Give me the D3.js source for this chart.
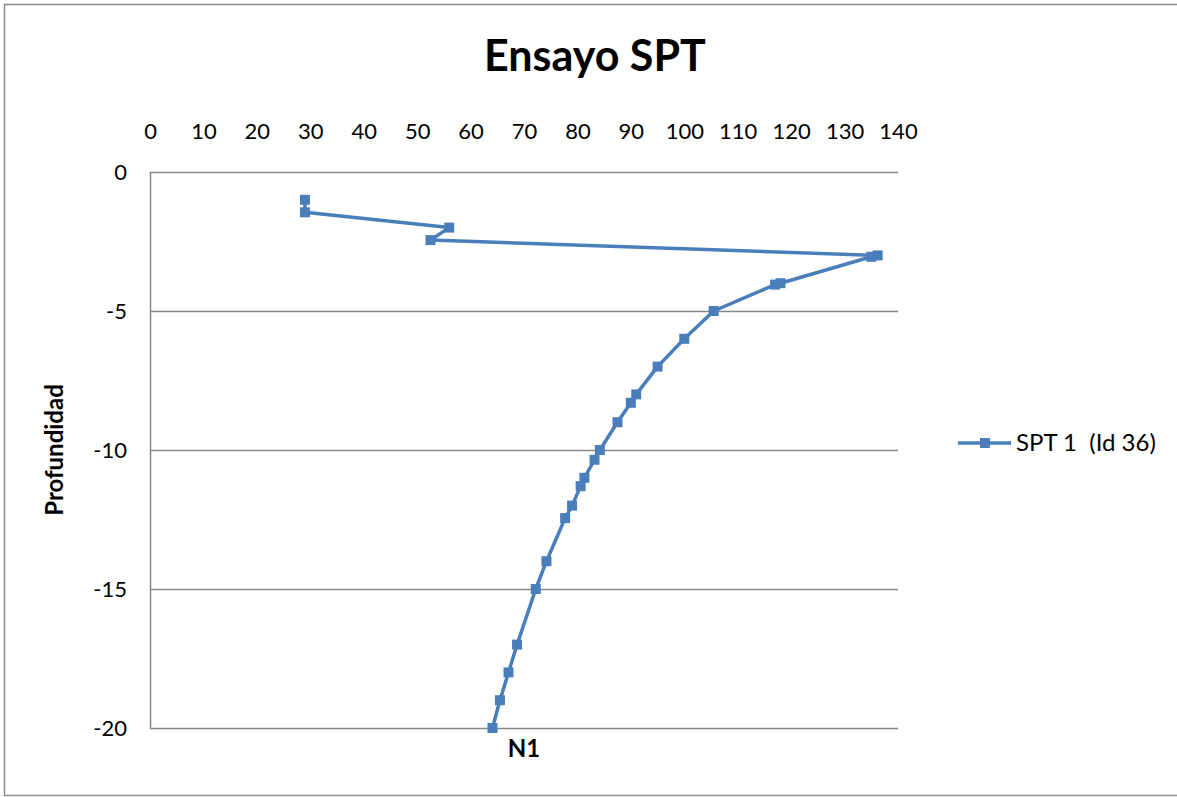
<!DOCTYPE html>
<html>
<head>
<meta charset="utf-8">
<script src="https://cdn.jsdelivr.net/npm/d3@7"></script>
<style>
  html, body { margin: 0; padding: 0; background: #fff; }
  svg { display: block; }
  text { font-family: Lato, "Open Sans", "Noto Sans", sans-serif; fill: #000; white-space: pre; }
</style>
</head>
<body>
<svg id="chart" width="1177" height="797"></svg>
<script>
// SPT test: blow count N1 by depth (m, negative downwards)
const depth = [-1, -1.45, -2, -2.45, -3, -3.05, -4, -4.05, -5, -6, -7, -8, -8.3, -9, -10, -10.35, -11, -11.3, -12, -12.45, -14, -15, -17, -18, -19, -20];
const n1 = [29, 29, 56, 52.5, 136.2, 135, 118, 117, 105.5, 100, 95, 91, 90, 87.5, 84.2, 83.2, 81.3, 80.6, 79, 77.7, 74.2, 72.2, 68.7, 67.1, 65.5, 64.1];
const xTicks = [0, 10, 20, 30, 40, 50, 60, 70, 80, 90, 100, 110, 120, 130, 140];
const yTicks = [0, -5, -10, -15, -20];
const seriesName = "SPT 1  (Id 36)";
const title = "Ensayo SPT";
const xTitle = "N1";
const yTitle = "Profundidad";

const svg = d3.select("#chart");
const W = 1177;
const plot = { left: 150, right: 898, top: 172, bottom: 728 };
const blue = "#4A7EBB";
const grid = "#878787";
const tickFont = "22px";

// chart area border
svg.append("rect")
  .attr("x", 4.5).attr("y", 4.5)
  .attr("width", W + 10).attr("height", 791)
  .attr("fill", "#fff").attr("stroke", "#8c8c8c").attr("stroke-width", 1.5);

const x = d3.scaleLinear().domain([0, 140]).range([plot.left, plot.right]);
const y = d3.scaleLinear().domain([-20, 0]).range([plot.bottom, plot.top]);

// horizontal gridlines (incl. the top axis line at 0)
svg.append("g")
  .selectAll("line")
  .data(yTicks)
  .join("line")
  .attr("x1", plot.left).attr("x2", plot.right)
  .attr("y1", d => Math.round(y(d)) + 0.5).attr("y2", d => Math.round(y(d)) + 0.5)
  .attr("stroke", grid).attr("stroke-width", 1.5);

// vertical value axis line
svg.append("line")
  .attr("x1", plot.left + 0.5).attr("x2", plot.left + 0.5)
  .attr("y1", plot.top).attr("y2", plot.bottom + 1)
  .attr("stroke", grid).attr("stroke-width", 1.5);

// top x axis tick labels
const xAxis = d3.axisTop(x).tickValues(xTicks).tickSize(0).tickPadding(0).tickFormat(d => String(d));
const gx = svg.append("g").attr("transform", `translate(0,139)`).call(xAxis);
gx.select(".domain").remove();
gx.selectAll("text")
  .attr("dy", 0)
  .style("font-size", tickFont)
  .style("font-family", "Lato, 'Open Sans', sans-serif")
  .attr("fill", "#000");

// left y axis tick labels (plain hyphen for negatives)
const yAxis = d3.axisLeft(y).tickValues(yTicks).tickSize(0).tickPadding(0).tickFormat(d => String(d));
const gy = svg.append("g").attr("transform", `translate(127,0)`).call(yAxis);
gy.select(".domain").remove();
gy.selectAll("text")
  .attr("dy", "0.35em")
  .style("font-size", tickFont)
  .style("font-family", "Lato, 'Open Sans', sans-serif")
  .attr("fill", "#000");

// data line
const pts = depth.map((d, i) => ({ d, n: n1[i] }));
svg.append("path")
  .datum(pts)
  .attr("fill", "none")
  .attr("stroke", blue)
  .attr("stroke-width", 3.5)
  .attr("stroke-linejoin", "round")
  .attr("d", d3.line().x(p => x(p.n)).y(p => y(p.d)));

// square markers
const ms = 10;
svg.append("g")
  .selectAll("rect")
  .data(pts)
  .join("rect")
  .attr("x", p => x(p.n) - ms / 2)
  .attr("y", p => y(p.d) - ms / 2)
  .attr("width", ms).attr("height", ms)
  .attr("fill", blue);

// title
svg.append("text")
  .attr("x", 595).attr("y", 71)
  .attr("text-anchor", "middle")
  .style("font-size", "43px").style("font-weight", "bold")
  .text(title);

// axis titles
svg.append("text")
  .attr("x", (plot.left + plot.right) / 2).attr("y", 757)
  .attr("text-anchor", "middle")
  .style("font-size", "24px").style("font-weight", "bold")
  .text(xTitle);

svg.append("text")
  .attr("transform", `translate(63,450) rotate(-90)`)
  .attr("text-anchor", "middle")
  .style("font-size", "24px").style("font-weight", "bold")
  .text(yTitle);

// legend
const lg = svg.append("g").attr("transform", "translate(958,443)");
lg.append("line").attr("x1", 0).attr("x2", 53).attr("y1", 0).attr("y2", 0)
  .attr("stroke", blue).attr("stroke-width", 3.5);
lg.append("rect").attr("x", 27 - ms / 2).attr("y", -ms / 2).attr("width", ms).attr("height", ms).attr("fill", blue);
lg.append("text").attr("x", 58).attr("y", 0).attr("dy", "0.35em")
  .style("font-size", "24px")
  .text(seriesName);
</script>
</body>
</html>
